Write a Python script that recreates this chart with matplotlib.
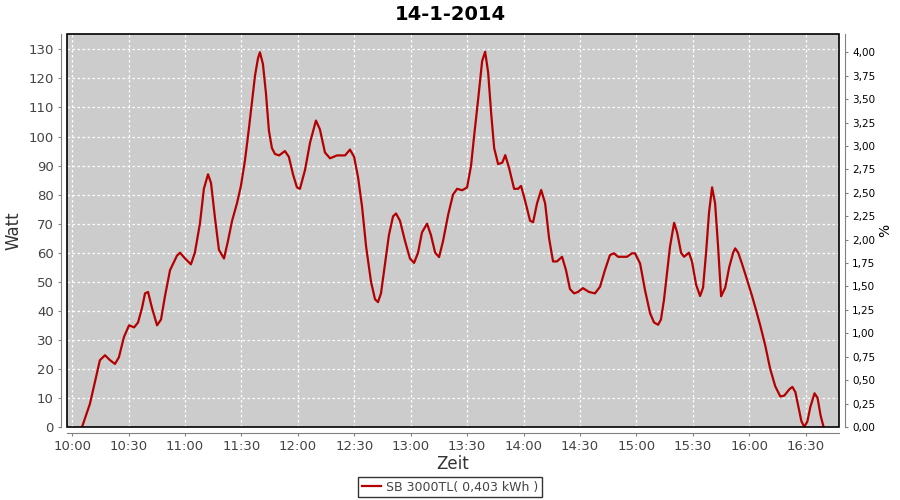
import numpy as np
import matplotlib
matplotlib.use("Agg")
import matplotlib.pyplot as plt
from matplotlib.patches import Rectangle
from matplotlib.ticker import FuncFormatter, MultipleLocator

# ── data: minutes after 10:00 and power in W ─────────────────────────────
minutes = [
    5.2, 9.4, 14.7, 17.4, 20.1, 22.7, 24.8, 27.5, 30.2, 32.9, 35.0, 37.1, 38.7,
    40.3, 42.4, 45.1, 47.2, 49.3, 52.0, 55.7, 57.3, 60.0, 63.1, 65.2, 67.9,
    70.0, 72.2, 73.8, 75.9, 78.0, 80.7, 82.8, 85.0, 87.6, 89.7, 91.9, 94.0,
    95.6, 97.2, 98.8, 99.8, 101.4, 103.0, 104.6, 106.2, 107.8, 110.0, 113.1,
    115.2, 117.4, 119.5, 121.1, 123.8, 126.5, 129.6, 131.7, 134.4, 137.1,
    140.8, 145.1, 147.7, 149.9, 152.0, 154.1, 156.3, 158.9, 161.0, 162.6,
    164.2, 166.3, 168.4, 170.6, 172.2, 174.3, 177.0, 179.6, 181.8, 183.9,
    186.0, 188.7, 190.8, 193.0, 195.1, 197.2, 199.9, 202.5, 204.7, 207.4,
    210.0, 212.1, 213.7, 215.9, 218.0, 219.6, 221.2, 222.8, 224.4, 226.5,
    228.7, 230.3, 232.4, 235.0, 237.1, 238.7, 240.8, 243.5, 245.1, 247.2,
    249.4, 251.5, 253.6, 255.7, 257.8, 260.5, 262.6, 264.7, 266.9, 269.0,
    271.6, 274.8, 278.0, 280.7, 283.3, 286.0, 288.1, 290.3, 295.0, 297.7,
    299.3, 302.0, 304.6, 307.3, 309.4, 311.6, 313.1, 314.7, 316.3, 317.9,
    320.1, 321.7, 323.8, 325.4, 328.0, 329.6, 331.8, 333.9, 335.5, 337.1,
    338.7, 340.3, 341.9, 343.5, 345.1, 347.3, 349.4, 351.5, 352.6, 354.2,
    356.3, 359.0, 361.6, 363.8, 365.9, 368.6, 371.2, 373.9, 376.6, 378.7,
    381.4, 383.0, 384.6, 386.2, 387.8, 389.4, 391.0, 392.6, 394.8, 396.4,
    398.0, 399.6,
]
watt = [
    0, 8, 23, 24.7, 23, 21.7, 24, 31, 35, 34.3, 36, 41, 46,
    46.5, 41, 35, 37, 45, 54, 59, 60, 58, 56, 60, 70,
    82, 87, 84, 72, 61, 58, 64, 71, 77, 83, 92, 103,
    112, 121, 127, 129, 125, 115, 102, 96, 94, 93.5, 95,
    93, 87, 82.5, 82, 88.5, 98, 105.5, 102.5, 94.5, 92.5,
    93.5, 93.5, 95.5, 93, 86, 76, 62, 50, 44, 43,
    46, 56, 66, 72.5, 73.5, 71, 64, 58, 56.5, 60,
    67, 70, 66, 60, 58.5, 64, 73, 80, 82, 81.5,
    82.5, 90, 100, 113, 126, 129.2, 122, 108, 96, 90.5,
    91, 93.6, 89, 82, 82, 83, 78, 71, 70.5, 77,
    81.6, 77, 65, 57, 57, 58.6, 54, 47.5, 46, 46.5,
    47.8, 46.5, 46, 48.3, 54, 59.2, 59.8, 58.6, 58.6, 59.8,
    59.8, 56.3, 47.2, 39.2, 36, 35.2, 37, 43.7, 53, 62,
    70.3, 67, 60, 58.6, 60, 57, 49, 45.1, 48, 60,
    74, 82.5, 77, 62, 45, 48, 55, 60, 61.5, 60,
    56, 50.5, 45, 40, 35, 28, 20, 14, 10.5, 10.8,
    13, 13.8, 12, 7, 2, 0, 2, 7, 11.6, 10,
    4, 0,
]
x_ticks = list(range(0, 391, 30))
pct_ticks = [0, 0.25, 0.5, 0.75, 1.0, 1.25, 1.5, 1.75, 2.0, 2.25, 2.5, 2.75,
             3.0, 3.25, 3.5, 3.75, 4.0]
series_label = "SB 3000TL( 0,403 kWh )"
title = "14-1-2014"

RED = "#b40000"
AXIS_GRAY = "#808080"
TXT = "#444444"

fig = plt.figure(figsize=(9, 5), dpi=100)
ax = fig.add_axes([67 / 900, 1 - 427 / 500, (839 - 67) / 900, (427 - 34) / 500])
ax.set_facecolor("#cccccc")

ax.plot(minutes, watt, color=RED, lw=1.6, label=series_label, zorder=3)

ax.set_xlim(-2.8, 407.8)
ax.set_ylim(0, 135.3)
ax.xaxis.set_major_formatter(FuncFormatter(
    lambda v, p: f"{10 + int(v) // 60}:{int(v) % 60:02d}"))
ax.set_xticks(x_ticks)
ax.yaxis.set_major_locator(MultipleLocator(10))
ax.grid(True, color="white", ls=(0, (2, 2)), lw=0.9)
ax.set_axisbelow(True)

for s in ("top", "right"):
    ax.spines[s].set_visible(False)
for s in ("left", "bottom"):
    ax.spines[s].set_position(("outward", 4))
    ax.spines[s].set_color(AXIS_GRAY)
ax.tick_params(colors=AXIS_GRAY, labelcolor=TXT, labelsize=9.5,
               length=2, direction="out")

ax.add_patch(Rectangle((0, 0), 1, 1, transform=ax.transAxes, fill=False,
                       edgecolor="black", lw=1.2, clip_on=False, zorder=5))

ax.set_ylabel("Watt", fontsize=12, color="#333333", labelpad=4)
ax.set_xlabel("Zeit", fontsize=12, color="#333333", labelpad=1)

ax2 = ax.twinx()
ax2.set_ylim(0, 4.195)
ax2.set_yticks(pct_ticks)
ax2.yaxis.set_major_formatter(FuncFormatter(lambda v, p: f"{v:.2f}".replace(".", ",")))
for s in ("top", "left", "bottom"):
    ax2.spines[s].set_visible(False)
ax2.spines["right"].set_position(("outward", 4))
ax2.spines["right"].set_color(AXIS_GRAY)
ax2.tick_params(colors=AXIS_GRAY, labelcolor="black", labelsize=7.5,
                length=2, direction="out")
ax2.set_ylabel("%", fontsize=10, color="black", labelpad=2)

fig.text(0.5, 0.972, title, ha="center", va="center", fontsize=14,
         fontweight="bold")

leg = fig.legend(handles=ax.get_lines(), loc="center", bbox_to_anchor=(0.5, 0.026),
                 fontsize=9, frameon=True, fancybox=False, handlelength=1.5,
                 handletextpad=0.4, borderpad=0.3)
leg.get_frame().set_edgecolor("black")
leg.get_frame().set_linewidth(1.0)
for t in leg.get_texts():
    t.set_color(TXT)

fig.savefig("out.png", dpi=100)
